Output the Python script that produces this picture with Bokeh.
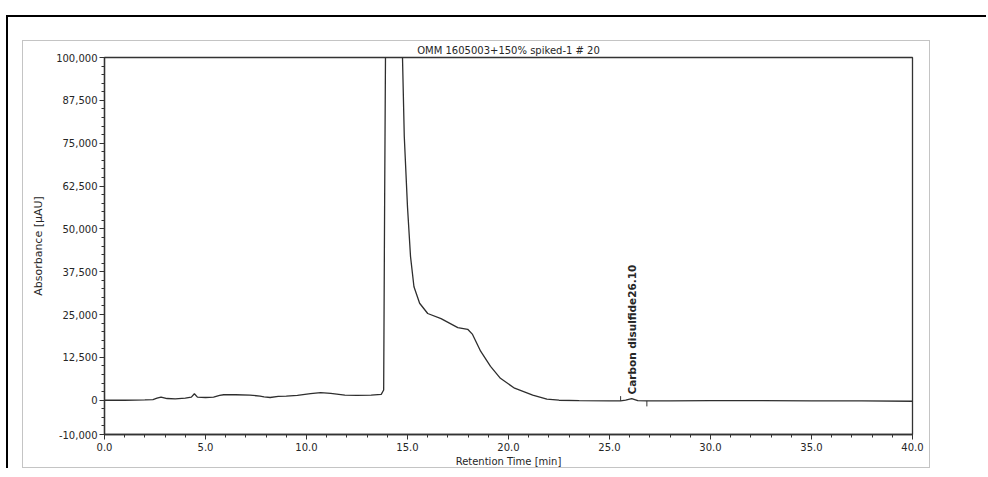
import math
from bokeh.plotting import figure
from bokeh.models import Range1d, FixedTicker, NumeralTickFormatter, ColumnDataSource
from bokeh.layouts import column
from bokeh.embed import file_html
from bokeh.resources import INLINE
from bokeh.core.properties import value

# ---- data ----
chart_title = "OMM 1605003+150% spiked-1 # 20"
x_label = "Retention Time [min]"
y_label = "Absorbance [\u00b5AU]"

time_min = [0.0, 1.0, 2.0, 2.4, 2.6, 2.8, 3.1, 3.5, 4.0, 4.3, 4.45, 4.6, 5.0, 5.4,
            5.7, 5.9, 6.5, 7.2, 7.7, 7.9, 8.2, 8.6, 9.0, 9.55, 10.2, 10.7, 11.2,
            11.9, 12.5, 13.2, 13.7, 13.82, 13.87, 13.92, 13.97, 14.5, 14.75, 14.84,
            15.0, 15.15, 15.32, 15.6, 16.0, 16.66, 17.49, 17.98, 18.22, 18.62,
            19.11, 19.6, 20.3, 21.2, 21.9, 22.5, 23.5, 25.0, 25.55, 25.8, 26.1,
            26.4, 26.85, 28.0, 30.0, 32.3, 35.0, 37.5, 40.0]
absorbance = [0, 0, 100, 200, 600, 900, 500, 400, 600, 900, 1900, 900, 800, 900,
              1400, 1600, 1600, 1500, 1200, 1000, 800, 1100, 1200, 1400, 1900, 2200, 2000,
              1500, 1400, 1500, 1700, 3000, 60000, 110000, 140000, 140000, 100600, 77000,
              56400, 41900, 33100, 28300, 25300, 23800, 21200, 20700, 19200, 14300,
              9900, 6400, 3500, 1500, 300, 0, -100, -200, -200, 0, 500,
              -100, -200, -200, -100, -100, -200, -200, -300]

peak_name = "Carbon disulfide"
peak_rt = 26.10
peak_top = 500
marker_t = [25.55, 26.85]
marker_from = [-200, -200]
marker_to = [1200, -1800]

x_ticks = [0, 5, 10, 15, 20, 25, 30, 35, 40]
x_minor = list(range(0, 41))
y_ticks = [-10000, 0, 12500, 25000, 37500, 50000, 62500, 75000, 87500, 100000]
y_minor = list(range(-10000, 100001, 2500))

FONT = "DejaVu Sans"
INK = "#262626"

p = figure(width=908, height=428, output_backend="svg", toolbar_location=None,
           x_range=Range1d(0, 40), y_range=Range1d(-10000, 100000),
           title=chart_title,
           min_border_left=81, min_border_right=19, min_border_top=0, min_border_bottom=35)
p.title.align = "center"
p.title.text_font = FONT
p.title.text_font_size = "10px"
p.title.text_font_style = "normal"
p.title.text_color = INK
p.title.standoff = 3
p.title.offset = 0
p.grid.visible = False
p.outline_line_color = "#333333"
p.outline_line_width = 1.3
p.background_fill_color = "white"
p.border_fill_color = "white"
p.styles = {"border": "1px solid #c4c4c4"}

src = ColumnDataSource(dict(t=time_min, a=absorbance))
p.line("t", "a", source=src, line_color="#2e2e2e", line_width=1.3)

p.segment(x0=marker_t, y0=marker_from, x1=marker_t, y1=marker_to,
          line_color="#333333", line_width=1)

p.text(x=[peak_rt], y=[peak_top], text=[f"{peak_name}{peak_rt:.2f}"], angle=math.pi / 2,
       text_align="left", text_baseline="middle", y_offset=-4,
       text_font=value(FONT), text_font_style="bold", text_font_size="10.5px", text_color=INK)

xa = p.xaxis[0]
xa.ticker = FixedTicker(ticks=x_ticks, minor_ticks=x_minor)
xa.formatter = NumeralTickFormatter(format="0.0")
xa.axis_label = x_label
ya = p.yaxis[0]
ya.ticker = FixedTicker(ticks=y_ticks, minor_ticks=y_minor)
ya.formatter = NumeralTickFormatter(format="0,0")
ya.axis_label = y_label

for ax in (xa, ya):
    ax.axis_line_color = "#333333"
    ax.axis_line_width = 1.3
    ax.major_tick_line_color = "#333333"
    ax.minor_tick_line_color = "#333333"
    ax.major_tick_out = 5
    ax.major_tick_in = 0
    ax.minor_tick_out = 3
    ax.minor_tick_in = 0
    ax.major_label_text_font = FONT
    ax.major_label_text_font_size = "10px"
    ax.major_label_text_color = INK
    ax.axis_label_text_font = FONT
    ax.axis_label_text_font_size = "10px"
    ax.axis_label_text_font_style = "normal"
    ax.axis_label_text_color = INK
xa.major_label_standoff = 3
xa.axis_label_standoff = 2
ya.major_label_standoff = 2
ya.axis_label_standoff = 8
ya.axis_label_text_font_size = "11px"

page = column(p, styles={"margin-left": "6px", "margin-top": "15px",
                         "border-top": "2px solid black", "border-left": "2px solid black",
                         "padding-left": "14px", "padding-top": "23px",
                         "padding-right": "56px"})

open("out.html", "w").write(file_html(page, INLINE))
